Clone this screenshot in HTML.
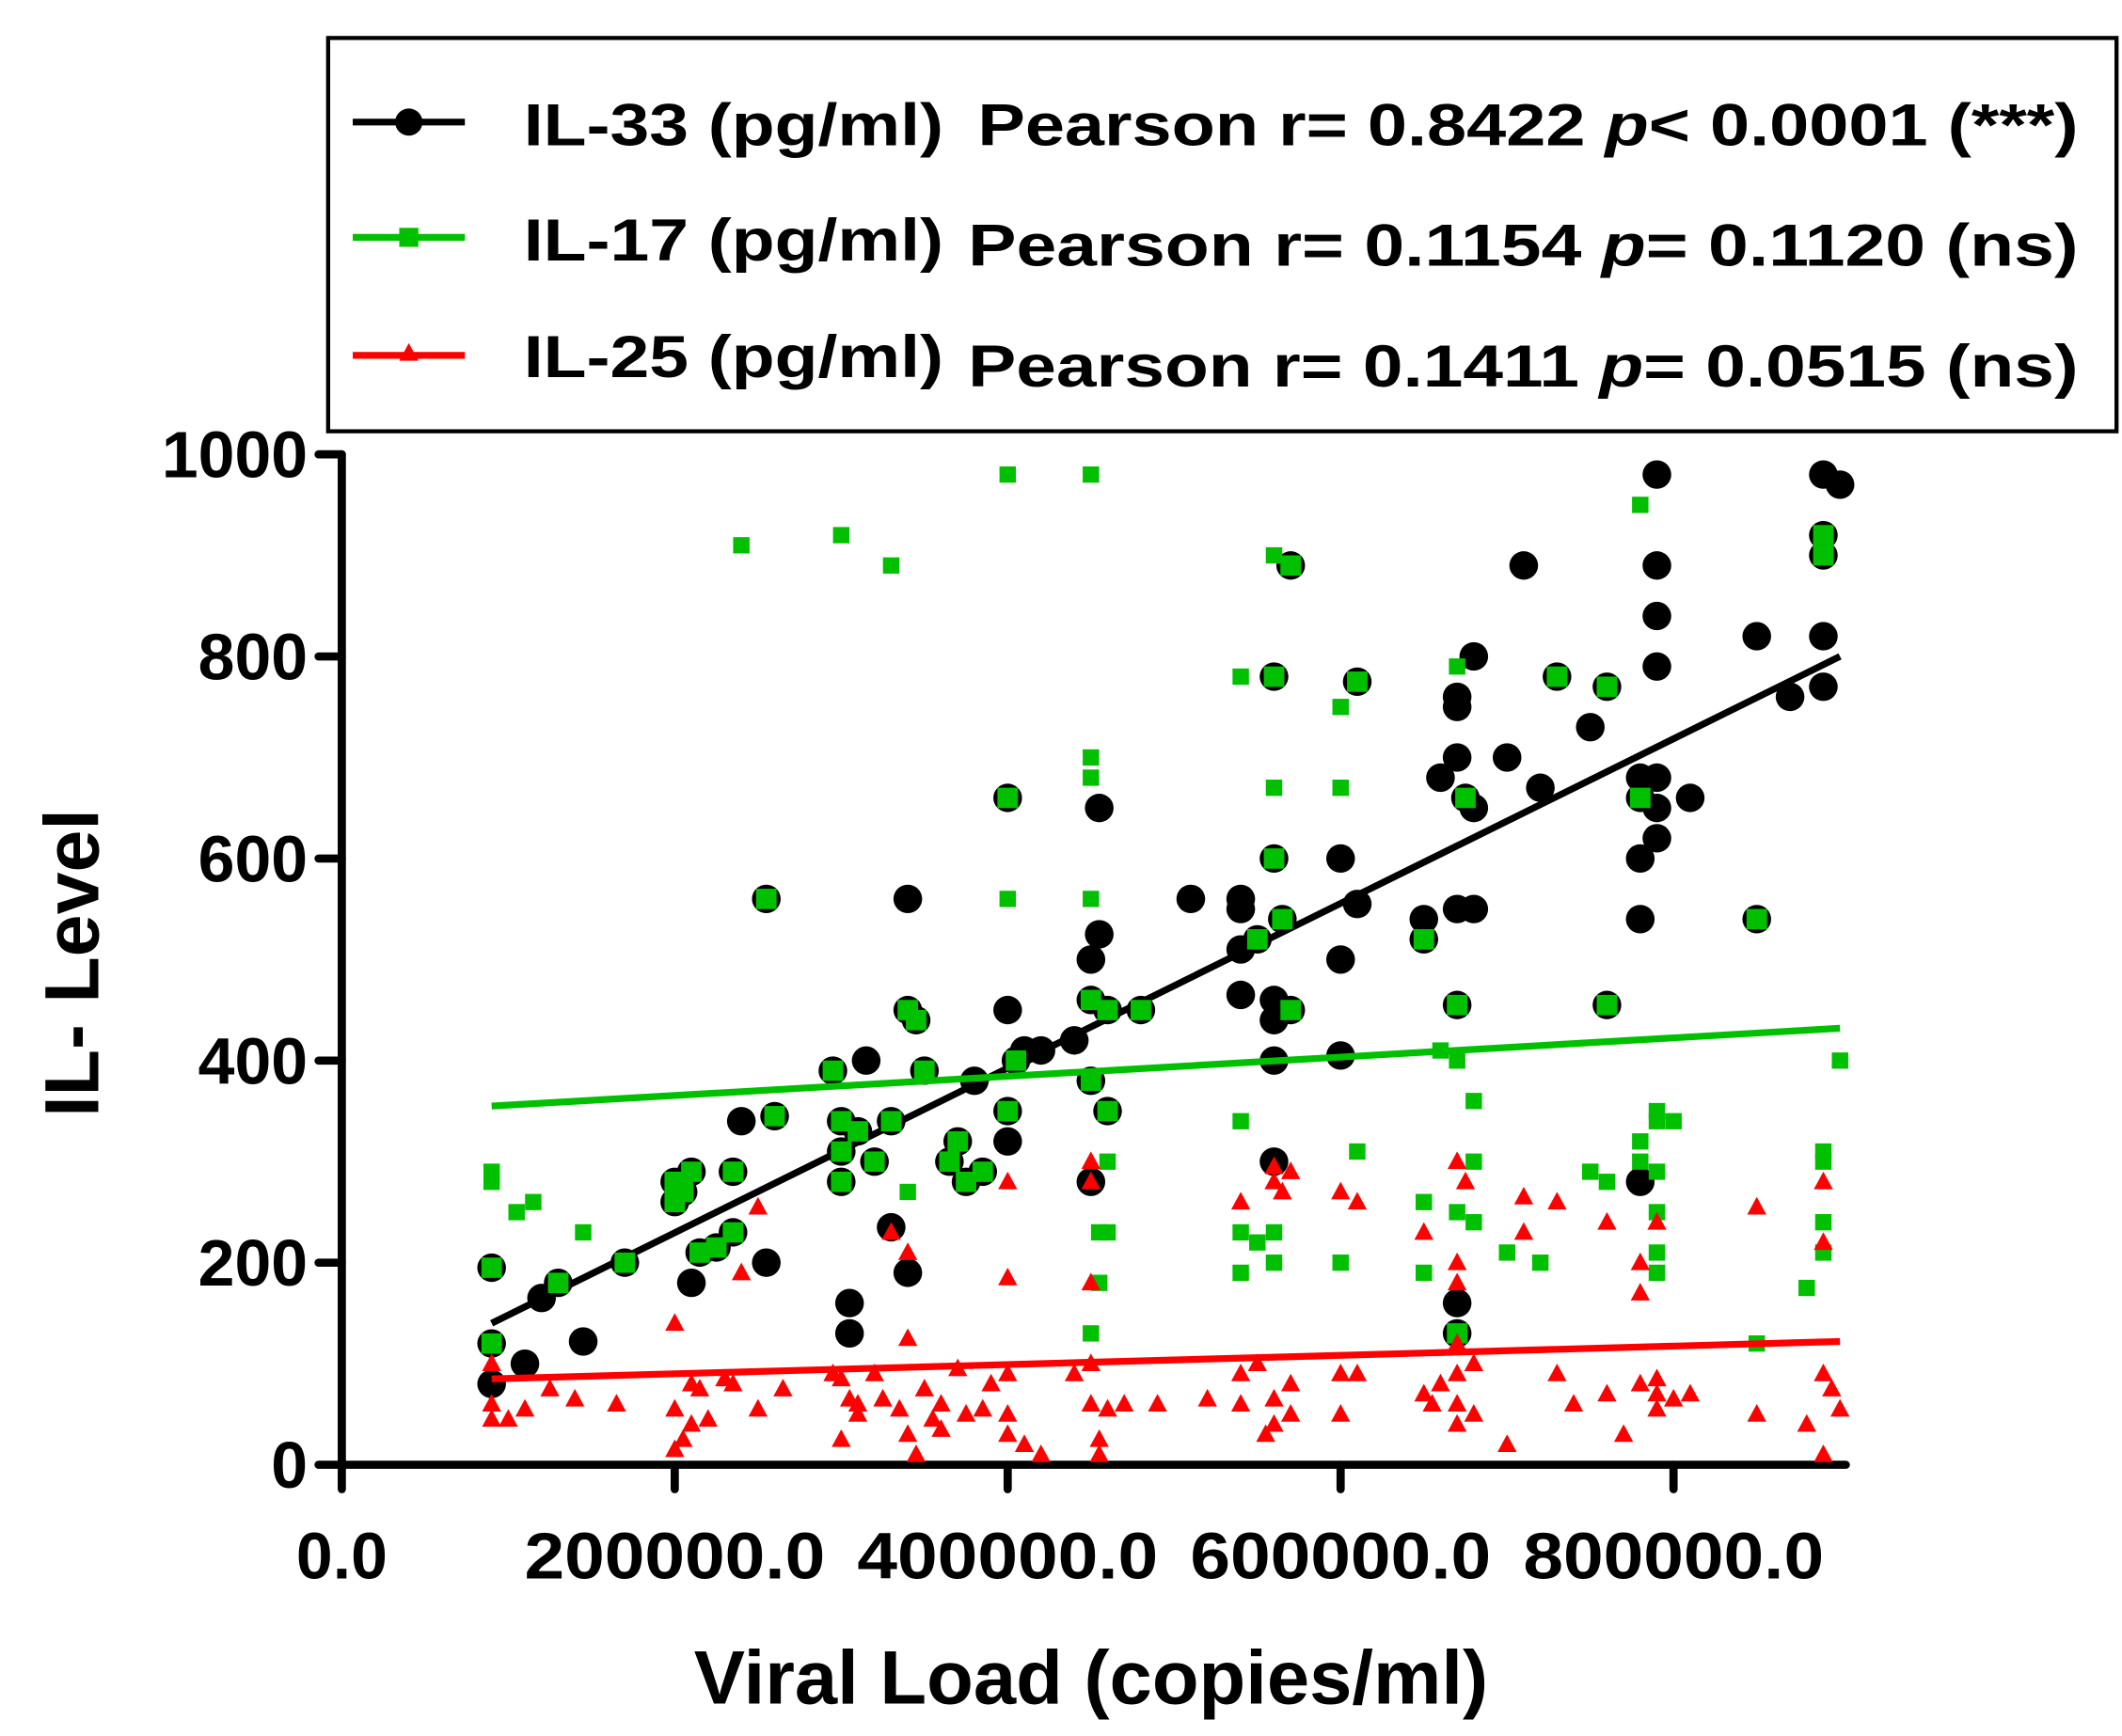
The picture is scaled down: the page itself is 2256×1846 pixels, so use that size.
<!DOCTYPE html>
<html><head><meta charset="utf-8"><style>html,body{margin:0;padding:0;background:#fff}svg{display:block}text{font-family:"Liberation Sans",sans-serif;font-weight:bold;fill:#000}</style></head>
<body>
<svg id="s" width="2256" height="1846" viewBox="0 0 1552 1280" preserveAspectRatio="none" xmlns="http://www.w3.org/2000/svg">
<rect x="0" y="0" width="1552" height="1280" fill="#fff"/>
<rect x="240" y="28" width="1308" height="290" fill="#fff" stroke="#000" stroke-width="3"/>
<line x1="258" y1="90" x2="340" y2="90" stroke="#000" stroke-width="5"/><circle cx="299" cy="90" r="10" fill="#000"/>
<line x1="258" y1="175" x2="340" y2="175" stroke="#00c000" stroke-width="5"/><rect x="292" y="168" width="14" height="14" fill="#00c000"/>
<line x1="258" y1="262" x2="340" y2="262" stroke="#ff0000" stroke-width="5"/><polygon points="299,253 292,266 306,266" fill="#ff0000"/>
<text x="383" y="107" font-size="44" textLength="307" lengthAdjust="spacingAndGlyphs">IL-33 (pg/ml)</text>
<text x="715" y="107" font-size="44" textLength="805" lengthAdjust="spacingAndGlyphs">Pearson r= 0.8422 <tspan font-style="italic">p</tspan>&lt; 0.0001 (***)</text>
<text x="383" y="192" font-size="44" textLength="307" lengthAdjust="spacingAndGlyphs">IL-17 (pg/ml)</text>
<text x="708" y="196" font-size="44" textLength="812" lengthAdjust="spacingAndGlyphs">Pearson r= 0.1154 <tspan font-style="italic">p</tspan>= 0.1120 (ns)</text>
<text x="383" y="278" font-size="44" textLength="307" lengthAdjust="spacingAndGlyphs">IL-25 (pg/ml)</text>
<text x="708" y="285" font-size="44" textLength="812" lengthAdjust="spacingAndGlyphs">Pearson r= 0.1411 <tspan font-style="italic">p</tspan>= 0.0515 (ns)</text>
<g stroke="#000" stroke-width="6" stroke-linecap="round">
<line x1="250" y1="335" x2="250" y2="1098"/>
<line x1="250" y1="1080" x2="1350" y2="1080"/>
<line x1="233" y1="335" x2="250" y2="335"/><line x1="233" y1="484" x2="250" y2="484"/><line x1="233" y1="633" x2="250" y2="633"/><line x1="233" y1="782" x2="250" y2="782"/><line x1="233" y1="931" x2="250" y2="931"/><line x1="233" y1="1080" x2="250" y2="1080"/>
<line x1="493.5" y1="1080" x2="493.5" y2="1098"/><line x1="737" y1="1080" x2="737" y2="1098"/><line x1="980.5" y1="1080" x2="980.5" y2="1098"/><line x1="1224" y1="1080" x2="1224" y2="1098"/>
</g>
<g font-size="48" text-anchor="end">
<text x="225" y="352">1000</text><text x="225" y="501">800</text><text x="225" y="650">600</text><text x="225" y="799">400</text><text x="225" y="948">200</text><text x="225" y="1097">0</text>
</g>
<g font-size="48" text-anchor="middle">
<text x="250" y="1164">0.0</text><text x="493.5" y="1164" textLength="220" lengthAdjust="spacingAndGlyphs">200000.0</text><text x="737" y="1164" textLength="220" lengthAdjust="spacingAndGlyphs">400000.0</text><text x="980.5" y="1164" textLength="220" lengthAdjust="spacingAndGlyphs">600000.0</text><text x="1224" y="1164" textLength="220" lengthAdjust="spacingAndGlyphs">800000.0</text>
</g>
<text x="798" y="1256" font-size="56" text-anchor="middle">Viral Load (copies/ml)</text>
<text transform="translate(72,710) rotate(-90)" font-size="56" text-anchor="middle">IL- Level</text>
<g id="pts"></g>
</svg>
<script>
var X=function(v){return 250+v*1000/200000*243.5},Y=function(l){return 1080-l*0.745};
var B=[[90,80],[90,120],[90,195],[110,100],[120,165],[130,180],[145,122],[170,200],[200,280],[200,260],[205,270],[210,180],[210,290],[215,210],[225,215],[235,230],[235,290],[240,340],[255,200],[255,560],[260,345],[295,390],[300,340],[300,310],[300,280],[305,160],[305,130],[310,330],[315,400],[320,300],[330,340],[330,235],[340,560],[340,190],[340,450],[345,440],[350,390],[365,300],[370,320],[375,280],[380,380],[385,290],[400,450],[400,320],[400,350],[400,660],[405,400],[410,410],[420,410],[440,420],[450,280],[450,380],[450,460],[450,500],[455,650],[455,525],[460,450],[460,350],[480,450],[510,560],[540,560],[540,550],[540,510],[540,465],[550,520],[560,300],[560,400],[560,440],[560,460],[560,780],[560,600],[565,540],[570,890],[570,450],[600,600],[600,500],[600,405],[610,555],[610,775],[650,540],[650,520],[660,680],[670,760],[670,750],[670,700],[670,550],[670,160],[670,130],[670,455],[680,800],[680,650],[680,550],[675,660],[700,700],[710,890],[720,670],[730,780],[750,730],[760,770],[760,455],[780,540],[780,600],[780,680],[780,280],[780,660],[790,980],[790,890],[790,840],[790,790],[790,680],[790,650],[790,620],[810,660],[850,820],[850,540],[870,760],[890,980],[890,920],[890,900],[890,820],[890,770],[900,970]];
var BO={};
[[90,80],[110,100],[120,165],[145,122],[210,180],[240,340],[255,200],[305,160],[305,130],[315,400],[330,235],[340,560],[340,190],[380,380],[400,450],[400,320],[410,410],[420,410],[440,420],[450,280],[450,500],[455,650],[455,525],[510,560],[540,560],[540,550],[540,510],[540,465],[560,460],[560,440],[560,300],[560,400],[600,600],[600,500],[600,405],[610,555],[650,540],[660,680],[670,760],[670,750],[670,700],[670,550],[670,160],[680,650],[680,550],[680,800],[700,700],[710,890],[720,670],[750,730],[780,540],[780,600],[780,680],[780,280],[790,980],[790,890],[790,840],[790,790],[790,680],[790,650],[790,620],[810,660],[850,820],[870,760],[890,980],[890,820],[890,770],[900,970]].forEach(function(p){BO[p[0]+','+p[1]]=1;});
var Gx=[[90,290],[90,280],[105,250],[115,260],[145,230],[240,910],[300,920],[330,890],[400,980],[450,980],[400,560],[450,560],[450,700],[450,680],[455,230],[460,230],[455,180],[450,130],[460,300],[340,270],[540,780],[540,340],[540,190],[540,230],[550,220],[560,900],[560,670],[560,230],[560,200],[600,750],[600,670],[600,200],[610,310],[650,260],[650,190],[660,410],[670,790],[670,250],[670,400],[680,240],[680,360],[680,300],[700,210],[720,200],[750,290],[760,280],[780,950],[780,320],[780,300],[790,340],[790,350],[790,290],[790,250],[790,210],[790,190],[800,340],[850,120],[880,175],[890,240],[890,310],[890,300],[890,210],[900,400]];
var R=[[90,100],[90,60],[90,45],[100,45],[110,55],[125,75],[140,65],[165,60],[200,140],[200,55],[200,15],[205,25],[210,80],[210,40],[215,75],[220,45],[230,85],[235,80],[240,190],[250,255],[250,55],[265,75],[295,90],[300,25],[300,85],[305,65],[310,50],[310,60],[320,90],[325,65],[330,230],[335,55],[340,210],[340,125],[340,30],[345,10],[350,75],[355,45],[360,35],[360,60],[370,95],[375,50],[385,55],[390,80],[400,280],[400,185],[400,90],[400,50],[400,30],[410,20],[420,10],[440,90],[450,300],[450,280],[450,180],[450,100],[450,60],[455,25],[455,10],[460,55],[470,60],[490,60],[520,65],[540,260],[540,90],[540,60],[550,100],[555,30],[560,295],[560,280],[560,65],[560,40],[565,270],[570,290],[570,80],[570,50],[600,270],[600,90],[600,50],[610,260],[610,90],[650,230],[650,70],[655,60],[660,80],[670,300],[670,200],[670,180],[670,120],[670,90],[670,60],[670,40],[675,280],[680,100],[680,50],[700,20],[710,265],[710,230],[730,260],[730,90],[740,60],[760,240],[760,70],[770,30],[780,200],[780,170],[780,80],[790,240],[790,85],[790,70],[790,55],[800,65],[810,70],[850,255],[850,50],[880,40],[890,280],[890,220],[890,90],[890,10],[895,75],[900,55]];
var h='';
B.forEach(function(p){h+='<circle cx="'+X(p[0])+'" cy="'+Y(p[1])+'" r="10.5" fill="#000"/>';});
h+='<line x1="'+X(90)+'" y1="'+Y(140)+'" x2="'+X(900)+'" y2="'+Y(800)+'" stroke="#000" stroke-width="5"/>';
B.filter(function(p){return !BO[p[0]+','+p[1]];}).forEach(function(p){var s=15;h+='<rect x="'+(X(p[0])-s/2)+'" y="'+(Y(p[1])-s/2)+'" width="'+s+'" height="'+s+'" fill="#00c000"/>';});
Gx.forEach(function(p){var s=12;h+='<rect x="'+(X(p[0])-s/2)+'" y="'+(Y(p[1])-s/2)+'" width="'+s+'" height="'+s+'" fill="#00c000"/>';});
h+='<line x1="'+X(90)+'" y1="'+Y(355)+'" x2="'+X(900)+'" y2="'+Y(432)+'" stroke="#00c000" stroke-width="5"/>';
R.forEach(function(p){var x=X(p[0]),y=Y(p[1]);h+='<polygon points="'+x+','+(y-7.5)+' '+(x-7)+','+(y+5.5)+' '+(x+7)+','+(y+5.5)+'" fill="#ff0000"/>';});
h+='<line x1="'+X(90)+'" y1="'+Y(85)+'" x2="'+X(900)+'" y2="'+Y(122)+'" stroke="#ff0000" stroke-width="5"/>';
document.getElementById('pts').innerHTML=h;
</script>
</body></html>
